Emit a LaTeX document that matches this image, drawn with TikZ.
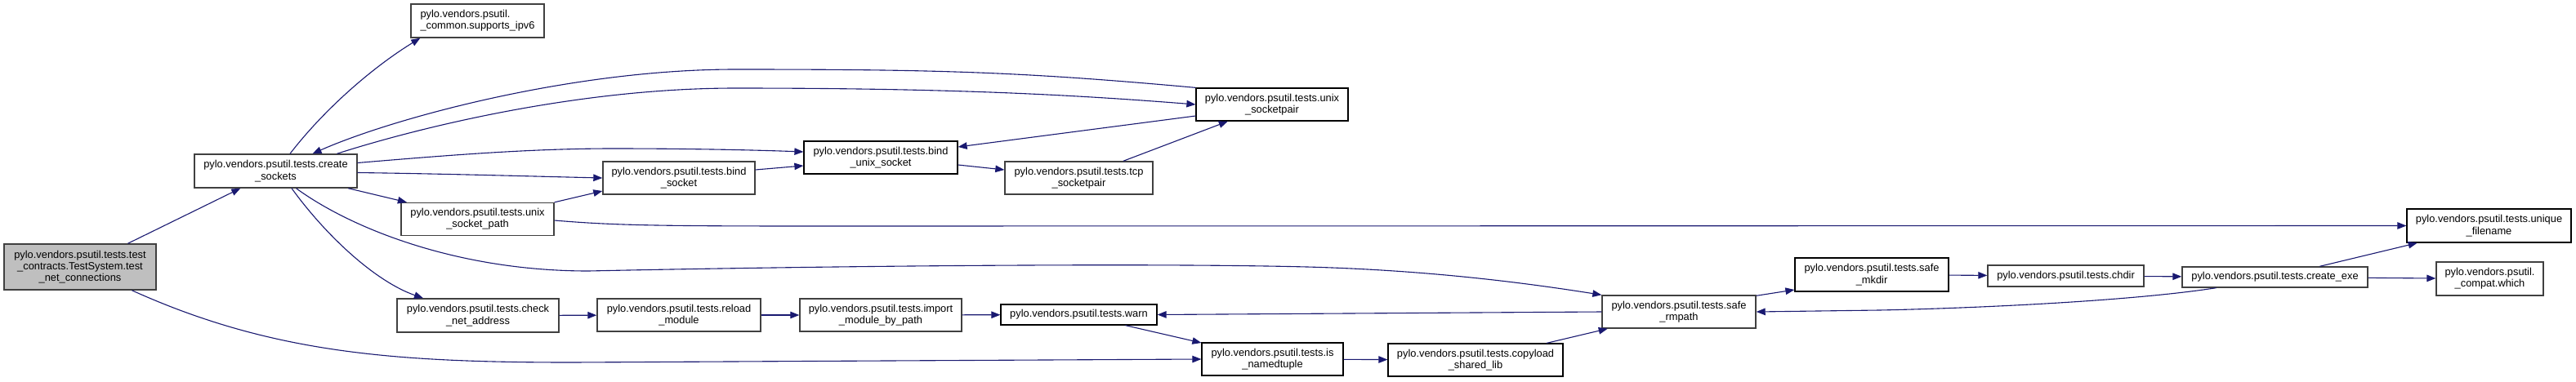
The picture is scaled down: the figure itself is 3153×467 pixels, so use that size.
\documentclass[tikz,border=0pt]{standalone}
\usepackage{fontspec}
\setmainfont{Liberation Sans}
\usetikzlibrary{arrows.meta}
\definecolor{edgeblue}{HTML}{191970}
\definecolor{boxgray}{HTML}{404040}
\definecolor{rootfill}{HTML}{BFBFBF}

\begin{document}
\begin{tikzpicture}[x=1pt, y=-1pt,
    fn/.style={draw=boxgray, line width=1.4pt, fill=white, inner sep=0pt, align=center,
        font=\fontsize{12.85}{14.3}\selectfont},
    fnk/.style={fn, draw=black, line width=1.25pt},
    call/.style={draw=edgeblue, line width=1.1pt, -{Triangle[length=11pt,width=8.5pt]}}]
    \useasboundingbox (0,0) rectangle (3153,467);
    \node[fn, fill=rootfill, minimum width=186pt, minimum height=56pt] (root) at (98,327) {pylo.vendors.psutil.tests.test\\\_contracts.TestSystem.test\\\_net\_connections};
    \node[fn, minimum width=199pt, minimum height=41pt] (cs) at (337.5,209.5) {pylo.vendors.psutil.tests.create\\\_sockets};
    \node[fn, align=left, minimum width=163pt, minimum height=41pt] (ipv6) at (584.5,25.5) {pylo.vendors.psutil.\\\_common.supports\_ipv6};
    \node[fn, minimum width=187pt, minimum height=40pt] (usp) at (584.5,268.5) {pylo.vendors.psutil.tests.unix\\\_socket\_path};
    \node[fn, minimum width=198pt, minimum height=41pt] (cna) at (585,386.5) {pylo.vendors.psutil.tests.check\\\_net\_address};
    \node[fn, minimum width=186pt, minimum height=40pt] (bs) at (831,218) {pylo.vendors.psutil.tests.bind\\\_socket};
    \node[fnk, minimum width=188pt, minimum height=40pt] (bus) at (1078,193) {pylo.vendors.psutil.tests.bind\\\_unix\_socket};
    \node[fn, minimum width=181pt, minimum height=40pt] (tcp) at (1320.5,218) {pylo.vendors.psutil.tests.tcp\\\_socketpair};
    \node[fnk, minimum width=186pt, minimum height=40pt] (usock) at (1557,128) {pylo.vendors.psutil.tests.unix\\\_socketpair};
    \node[fn, minimum width=200pt, minimum height=40pt] (rm) at (831,386) {pylo.vendors.psutil.tests.reload\\\_module};
    \node[fn, minimum width=198pt, minimum height=40pt] (imp) at (1078,386) {pylo.vendors.psutil.tests.import\\\_module\_by\_path};
    \node[fnk, minimum width=191pt, minimum height=25pt] (warn) at (1320.5,385.5) {pylo.vendors.psutil.tests.warn};
    \node[fnk, minimum width=173pt, minimum height=40pt] (isnt) at (1557.5,440) {pylo.vendors.psutil.tests.is\\\_namedtuple};
    \node[fnk, minimum width=214pt, minimum height=40pt] (cpl) at (1806,441) {pylo.vendors.psutil.tests.copyload\\\_shared\_lib};
    \node[fn, minimum width=188pt, minimum height=40pt] (srm) at (2055,382) {pylo.vendors.psutil.tests.safe\\\_rmpath};
    \node[fnk, minimum width=188pt, minimum height=41pt] (smk) at (2291,336.5) {pylo.vendors.psutil.tests.safe\\\_mkdir};
    \node[fn, minimum width=191pt, minimum height=26pt] (chdir) at (2528.5,338) {pylo.vendors.psutil.tests.chdir};
    \node[fn, minimum width=227pt, minimum height=25pt] (cexe) at (2784.5,339.5) {pylo.vendors.psutil.tests.create\_exe};
    \node[fnk, minimum width=201pt, minimum height=41pt] (uniq) at (3046.5,276.5) {pylo.vendors.psutil.tests.unique\\\_filename};
    \node[fn, minimum width=131pt, minimum height=41pt] (which) at (3047.5,341.5) {pylo.vendors.psutil.\\\_compat.which};

    \draw[call] (root) -- (cs);
    \draw[call] (root) .. controls (330,432) and (480,444) .. (700,444) -- (isnt.west);
    \draw[call] ([xshift=17.5pt]cs.north) .. controls (400,130) and (460,80) .. ([xshift=12pt]ipv6.south west);
    \draw[call] (usock.north west) .. controls (1250,88) and (1150,85) .. (900,85) .. controls (700,85) and (480,145) .. ([xshift=45pt]cs.north);
    \draw[call] ([xshift=75pt]cs.north) .. controls (500,160) and (700,108) .. (900,108) .. controls (1150,108) and (1300,115) .. (usock.west);
    \draw[call] ([yshift=10pt]cs.east) .. controls (550,190) and (650,182) .. (750,182) .. controls (850,182) and (930,184) .. ([yshift=7pt]bus.west);
    \draw[call] ([yshift=-2pt]cs.east) .. controls (550,213) and (650,216) .. (bs.west);
    \draw[call] (cs) -- (usp);
    \draw[call] ([xshift=19.5pt]cs.south) .. controls (400,290) and (460,345) .. ([xshift=-67pt]cna.north);
    \draw[call] ([xshift=25pt]cs.south) .. controls (430,280) and (560,332) .. (720,332) .. controls (1000,326) and (1400,322) .. (1600,327) .. controls (1750,331) and (1870,347) .. (srm.north west);
    \draw[call] (usp.north east) -- ([yshift=-16pt]bs.west);
    \draw[call] ([yshift=-1.5pt]usp.east) .. controls (750,276) and (800,277) .. (1000,277) -- (uniq.west);
    \draw[call] ([yshift=10pt]bs.east) -- ([yshift=-10pt]bus.west);
    \draw[call] ([yshift=-9pt]bus.east) -- ([yshift=10pt]tcp.west);
    \draw[call] (tcp) -- (usock);
    \draw[call] ([yshift=-14pt]usock.west) -- ([yshift=13pt]bus.east);
    \draw[call] (cna) -- (rm);
    \draw[call] (rm) -- (imp);
    \draw[call] (imp) -- (warn);
    \draw[call] (warn) -- (isnt);
    \draw[call] (isnt) -- (cpl);
    \draw[call] (cpl) -- (srm);
    \draw[call] (srm.west) -- (warn.east);
    \draw[call] ([yshift=-1pt]srm.north east) -- ([yshift=-18.5pt]smk.west);
    \draw[call] (smk) -- (chdir);
    \draw[call] (chdir) -- (cexe);
    \draw[call] (cexe) -- (uniq);
    \draw[call] (cexe) -- (which);
    \draw[call] ([xshift=-72pt]cexe.south) .. controls (2600,370) and (2400,378) .. (2300,380) -- (srm.east);
\end{tikzpicture}
\end{document}
